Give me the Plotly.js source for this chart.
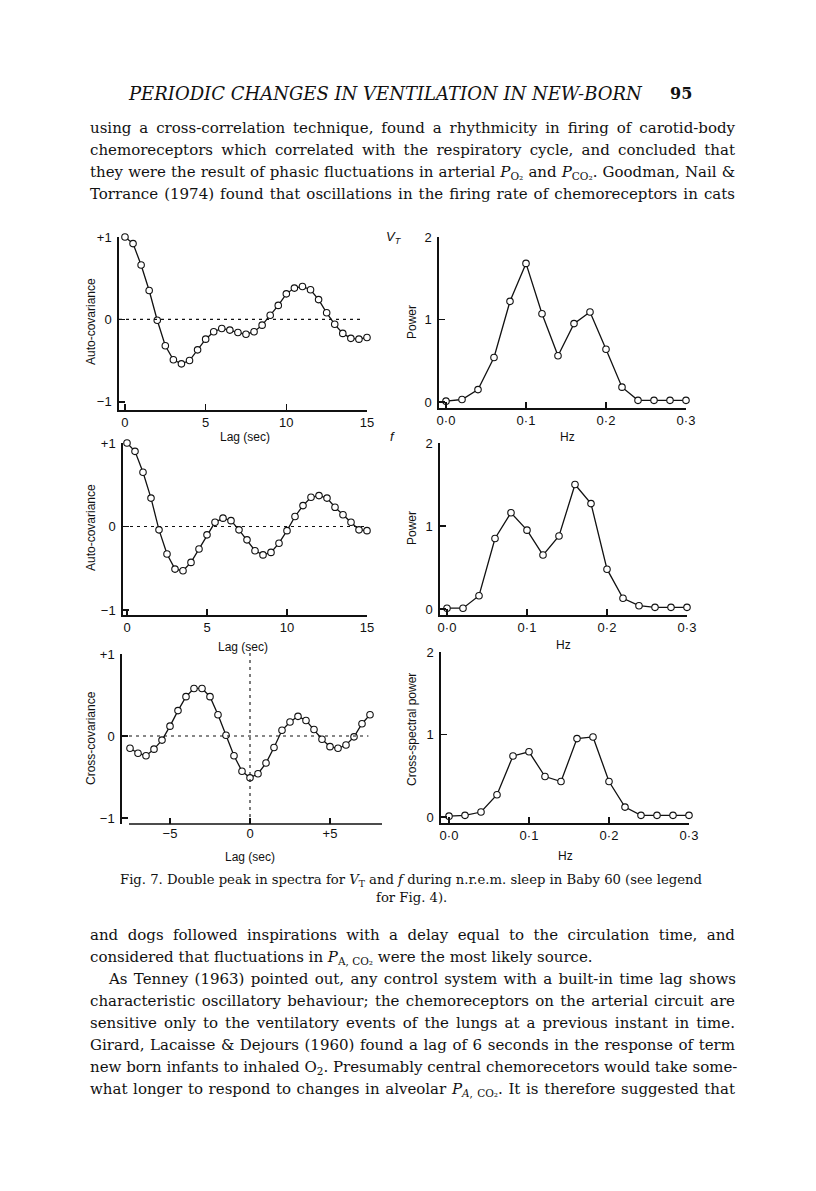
<!DOCTYPE html>
<html>
<head>
<meta charset="utf-8">
<script src="https://cdn.plot.ly/plotly-3.0.1.min.js"></script>
<style>
  body { margin: 0; background: #fff; }
  #page { width: 816px; height: 1191px; }
</style>
</head>
<body>
<div id="page"></div>
<script>
/***************************************************
 * Data (Baby 60, n.r.e.m. sleep)
 ***************************************************/
// lag (sec) for the auto-covariance plots
const lagAuto = [0, 0.5, 1, 1.5, 2, 2.5, 3, 3.5, 4, 4.5, 5, 5.5, 6, 6.5, 7, 7.5,
                 8, 8.5, 9, 9.5, 10, 10.5, 11, 11.5, 12, 12.5, 13, 13.5, 14, 14.5, 15];
// VT auto-covariance
const vtAutoCov = [1.0, 0.92, 0.66, 0.35, -0.01, -0.32, -0.49, -0.54, -0.50, -0.37, -0.24,
                   -0.15, -0.11, -0.13, -0.16, -0.18, -0.15, -0.07, 0.05, 0.17, 0.31,
                   0.38, 0.40, 0.36, 0.24, 0.08, -0.06, -0.17, -0.23, -0.24, -0.22];
// f auto-covariance
const fAutoCov = [1.0, 0.90, 0.65, 0.34, -0.04, -0.33, -0.51, -0.53, -0.43, -0.27, -0.10,
                  0.05, 0.10, 0.07, -0.04, -0.16, -0.29, -0.34, -0.31, -0.20, -0.05,
                  0.12, 0.25, 0.35, 0.37, 0.34, 0.23, 0.14, 0.05, -0.04, -0.05];
// lag (sec) for the cross-covariance
const lagCross = [-7.5, -7, -6.5, -6, -5.5, -5, -4.5, -4, -3.5, -3, -2.5, -2, -1.5, -1, -0.5, 0,
                  0.5, 1, 1.5, 2, 2.5, 3, 3.5, 4, 4.5, 5, 5.5, 6, 6.5, 7, 7.5];
const crossCov = [-0.15, -0.21, -0.24, -0.16, -0.05, 0.12, 0.31, 0.48, 0.58, 0.58, 0.48,
                  0.26, 0.01, -0.24, -0.43, -0.51, -0.46, -0.33, -0.14, 0.07, 0.17,
                  0.24, 0.19, 0.08, -0.04, -0.13, -0.15, -0.11, -0.01, 0.15, 0.26];
// frequency (Hz) for the spectra
const freqHz = [0, 0.02, 0.04, 0.06, 0.08, 0.10, 0.12, 0.14, 0.16, 0.18, 0.20, 0.22, 0.24, 0.26, 0.28, 0.30];
const vtPower    = [0.01, 0.03, 0.15, 0.54, 1.22, 1.68, 1.07, 0.56, 0.95, 1.09, 0.64, 0.18, 0.02, 0.02, 0.02, 0.02];
const fPower     = [0.01, 0.01, 0.16, 0.85, 1.16, 0.95, 0.65, 0.88, 1.50, 1.27, 0.48, 0.13, 0.04, 0.02, 0.02, 0.02];
const crossPower = [0.01, 0.02, 0.06, 0.27, 0.74, 0.79, 0.49, 0.43, 0.95, 0.97, 0.43, 0.12, 0.02, 0.02, 0.02, 0.02];

// tick labels
const covTicks = [-1, 0, 1];
const covTickText = ['\u22121', '0', '+1'];
const lagTicks = [0, 5, 10, 15];
const crossLagTicks = [-5, 0, 5];
const crossLagText = ['\u22125', '0', '+5'];
const hzTicks = [0, 0.1, 0.2, 0.3];
const hzTickText = ['0\u00b70', '0\u00b71', '0\u00b72', '0\u00b73'];
const powerTicks = [0, 1, 2];

// page text around the figure
const headLines = [
  'using a cross-correlation technique, found a rhythmicity in firing of carotid-body',
  'chemoreceptors which correlated with the respiratory cycle, and concluded that',
  'they were the result of phasic fluctuations in arterial <i>P</i><sub>O\u2082</sub> and <i>P</i><sub>CO\u2082</sub>. Goodman, Nail &amp;',
  'Torrance (1974) found that oscillations in the firing rate of chemoreceptors in cats'
];
const captionLines = [
  'Fig. 7. Double peak in spectra for <i>V</i><sub>T</sub> and <i>f</i> during n.r.e.m. sleep in Baby 60 (see legend',
  'for Fig. 4).'
];
const tailLines = [
  'and dogs followed inspirations with a delay equal to the circulation time, and',
  'considered that fluctuations in <i>P</i><sub>A, CO\u2082</sub> were the most likely source.',
  'As Tenney (1963) pointed out, any control system with a built-in time lag shows',
  'characteristic oscillatory behaviour; the chemoreceptors on the arterial circuit are',
  'sensitive only to the ventilatory events of the lungs at a previous instant in time.',
  'Girard, Lacaisse &amp; Dejours (1960) found a lag of 6 seconds in the response of term',
  'new born infants to inhaled O<sub>2</sub>. Presumably central chemorecetors would take some-',
  'what longer to respond to changes in alveolar <i>P</i><sub><i>A</i>, CO\u2082</sub>. It is therefore suggested that'
];

/***************************************************
 * Helpers (page pixels -> paper coords)
 ***************************************************/
const W = 816, H = 1191;
const ink = '#111';
const sans = 'Liberation Sans, Arial, sans-serif';
const serif = 'DejaVu Serif, serif';
const bodySize = 15;

function px(x) { return x / W; }
function py(y) { return 1 - y / H; }

// justify a line of body text: spread the spaces so it fills `width` px
const measureCtx = document.createElement('canvas').getContext('2d');
function textWidth(str, size, italic) {
  measureCtx.font = (italic ? 'italic ' : '') + size + 'px "DejaVu Serif"';
  return measureCtx.measureText(str).width;
}
function justify(html, size, width) {
  const plain = html.replace(/&amp;/g, '&');
  let w = 0;
  // <sub> parts are drawn at 70%
  plain.split(/(<sub>.*?<\/sub>)/).forEach(function (part) {
    if (part.indexOf('<sub>') === 0) {
      w += textWidth(part.replace(/<[^>]+>/g, ''), size * 0.7);
    } else {
      part.split(/(<i>.*?<\/i>)/).forEach(function (p) {
        w += textWidth(p.replace(/<[^>]+>/g, ''), size, p.indexOf('<i>') === 0);
      });
    }
  });
  const gaps = (plain.replace(/<[^>]+>/g, '').match(/ /g) || []).length;
  const ws = gaps ? Math.max(0, (width - w) / gaps) : 0;
  return '<span style="word-spacing:' + ws.toFixed(2) + 'px">' + html + '</span>';
}

function curve(x, y, n) {
  return {
    x: x, y: y,
    xaxis: 'x' + (n > 1 ? n : ''), yaxis: 'y' + (n > 1 ? n : ''),
    type: 'scatter', mode: 'lines+markers', cliponaxis: false,
    line: { color: ink, width: 1.3 },
    marker: { symbol: 'circle', size: 6.5, color: '#fff', line: { color: ink, width: 1.1 } },
    hoverinfo: 'skip', showlegend: false
  };
}

function baseAxis(extra) {
  return Object.assign({
    showline: true, linewidth: 1.7, linecolor: ink,
    ticks: 'inside', ticklen: 6, tickwidth: 1.6, tickcolor: ink,
    showgrid: false, zeroline: false, fixedrange: true,
    tickfont: { family: sans, size: 13, color: ink }
  }, extra);
}

function xAxis(left, right, range, vals, text, anchor) {
  return baseAxis({ domain: [px(left), px(right)], range: range, tickvals: vals,
                    ticktext: text || vals.map(String), anchor: anchor });
}

function yAxis(top, bottom, range, vals, text, anchor) {
  return baseAxis({ domain: [py(bottom), py(top)], range: range, tickvals: vals,
                    ticktext: text || vals.map(String), anchor: anchor, ticklabelstandoff: 3 });
}

function label(text, x, y, opts) {
  return Object.assign({
    text: text, xref: 'paper', yref: 'paper', x: px(x), y: py(y),
    xanchor: 'center', yanchor: 'middle', showarrow: false,
    font: { family: sans, size: 12, color: ink }
  }, opts || {});
}

function dashed(x0, x1, y0, y1, xref, yref) {
  return { type: 'line', x0: x0, x1: x1, y0: y0, y1: y1, xref: xref, yref: yref,
           line: { color: ink, width: 1.1, dash: '3px,4px' } };
}

/***************************************************
 * Traces
 ***************************************************/
const traces = [
  curve(lagAuto, vtAutoCov, 1),
  curve(freqHz, vtPower, 2),
  curve(lagAuto, fAutoCov, 3),
  curve(freqHz, fPower, 4),
  curve(lagCross, crossCov, 5),
  curve(freqHz, crossPower, 6)
];

/***************************************************
 * Layout
 ***************************************************/
const annotations = [
  // axis titles
  label('Auto-covariance', 91, 322, { textangle: -90 }),
  label('Power', 412, 322, { textangle: -90 }),
  label('Lag (sec)', 245, 437),
  label('Hz', 567, 437),
  label('<i>V</i><sub><i>T</i></sub>', 394, 237, { font: { family: sans, size: 13, color: ink } }),
  label('Auto-covariance', 91, 528, { textangle: -90 }),
  label('Power', 412, 528, { textangle: -90 }),
  label('Lag (sec)', 243, 647),
  label('Hz', 563, 645),
  label('<i>f</i>', 392, 436, { font: { family: sans, size: 13, color: ink } }),
  label('Cross-covariance', 91, 738, { textangle: -90 }),
  label('Cross-spectral power', 412, 730, { textangle: -90 }),
  label('Lag (sec)', 250, 857),
  label('Hz', 565, 856),
  // running head
  label('<i>PERIODIC CHANGES IN VENTILATION IN NEW-BORN</i>', 385, 94,
        { font: { family: serif, size: 18, color: ink } }),
  label('<b>95</b>', 681, 94, { font: { family: serif, size: 16, color: ink } })
];

const textLeft = 88, textRight = 733;
headLines.forEach(function (t, i) {
  annotations.push(label(justify(t, bodySize, textRight - textLeft), textLeft, 128 + i * 22,
    { xanchor: 'left', font: { family: serif, size: bodySize, color: ink } }));
});
captionLines.forEach(function (t, i) {
  annotations.push(label(t, 411, 880 + i * 17,
    { font: { family: serif, size: 13.2, color: ink } }));
});
tailLines.forEach(function (t, i) {
  const left = i === 2 ? textLeft + 18 : textLeft;
  const text = i === 1 ? t : justify(t, bodySize, textRight - left);
  annotations.push(label(text, left, 935 + i * 22,
    { xanchor: 'left', font: { family: serif, size: bodySize, color: ink } }));
});

const layout = {
  width: W, height: H,
  margin: { l: 0, r: 0, t: 0, b: 0 },
  paper_bgcolor: '#fff', plot_bgcolor: 'rgba(0,0,0,0)',
  showlegend: false,
  // top row: VT
  xaxis:  xAxis(119, 367, [-0.37, 15], lagTicks, null, 'y'),
  yaxis:  yAxis(237, 410, [-1.1, 1], covTicks, covTickText, 'x'),
  xaxis2: xAxis(439, 686, [-0.00875, 0.3], hzTicks, hzTickText, 'y2'),
  yaxis2: yAxis(237, 408, [-0.073, 2], powerTicks, null, 'x2'),
  // middle row: f
  xaxis3: xAxis(123, 367, [-0.25, 15], lagTicks, null, 'y3'),
  yaxis3: yAxis(443, 615, [-1.06, 1], covTicks, covTickText, 'x3'),
  xaxis4: xAxis(440, 687, [-0.00875, 0.3], hzTicks, hzTickText, 'y4'),
  yaxis4: yAxis(443, 615, [-0.072, 2], powerTicks, null, 'x4'),
  // bottom row: cross (x axis line drawn as a shape, it stops short of the y axis)
  xaxis5: Object.assign(xAxis(122, 382, [-8, 8.25], crossLagTicks, crossLagText, 'y5'), { showline: false }),
  yaxis5: yAxis(654, 824, [-1.073, 1], covTicks, covTickText, 'x5'),
  xaxis6: xAxis(441, 689, [-0.01, 0.3], hzTicks, hzTickText, 'y6'),
  yaxis6: yAxis(652, 823, [-0.073, 2], powerTicks, null, 'x6'),
  shapes: [
    dashed(-0.37, 14.75, 0, 0, 'x', 'y'),
    dashed(-0.25, 15, 0, 0, 'x3', 'y3'),
    dashed(-8, 7.4, 0, 0, 'x5', 'y5'),
    dashed(0, 0, py(824), py(648), 'x5', 'paper'),
    { type: 'line', xref: 'x5', yref: 'paper', x0: -7.56, x1: 8.25, y0: py(824), y1: py(824),
      line: { color: ink, width: 1.7 } }
  ],
  annotations: annotations
};

Plotly.newPlot('page', traces, layout, { staticPlot: true });
</script>
</body>
</html>
